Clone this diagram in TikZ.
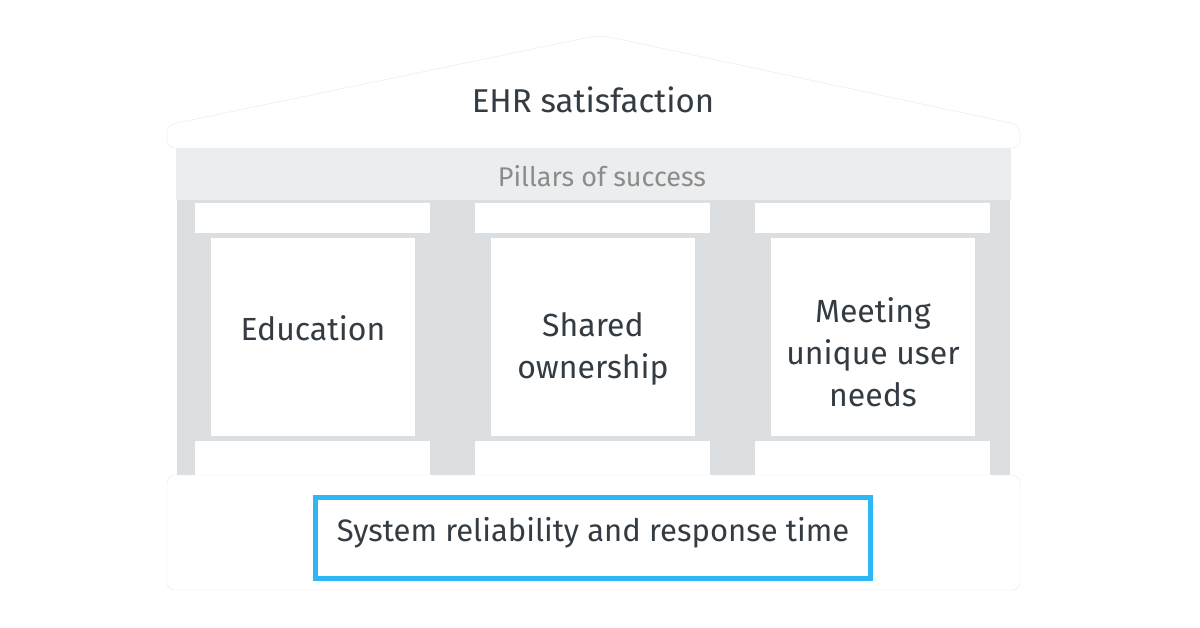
\documentclass[tikz,border=0pt]{standalone}
\usepackage{fontspec}
\setmainfont{Fira Sans}
\definecolor{txt}{HTML}{333B43}
\definecolor{back}{HTML}{DCDFE2}
\definecolor{band}{HTML}{ECEDEE}
\definecolor{edge}{HTML}{E6E8EA}
\definecolor{hl}{HTML}{2DB7F5}
\begin{document}
\begin{tikzpicture}[x=1pt,y=-1pt,
  lbl/.style={text=txt,font=\fontsize{32}{42}\selectfont,align=center},
  wbox/.style={fill=white,draw=none}]
\useasboundingbox (0,0) rectangle (1200,628);
% roof
\draw[draw=edge,fill=white,rounded corners=8pt] (167,148) -- (167,125) -- (600,35) -- (1020,125) -- (1020,148) -- cycle;
\node[text=txt,font=\fontsize{33}{38}\selectfont] (roof) at (593,100) {EHR satisfaction};
% back
\fill[back] (177,200) rectangle (1010,475);
% band
\fill[band] (176,148) rectangle (1011,200);
\node[text=black!45,font=\fontsize{27}{31}\selectfont] (band) at (602,176) {Pillars of success};
% pillars
\foreach \x/\n in {195/a,475/b,755/c}{
  \fill[white] (\x,203) rectangle (\x+235,233);
  \fill[white] (\x,441) rectangle (\x+235,475);
  \fill[white] (\x+16,238) rectangle (\x+220,436);
}
\node[lbl] (p1) at (313,328) {Education};
\node[lbl] (p2) at (593,349) {Shared\\ownership};
\node[lbl] (p3) at (873,352) {Meeting\\unique user\\needs};
% base
\draw[draw=edge,fill=white,rounded corners=8pt] (167,475) rectangle (1020,590);
\draw[hl,line width=5pt] (315,497) rectangle (870,578);
\node[text=txt,font=\fontsize{31}{36}\selectfont] (base) at (593,533) {System reliability and response time};
\end{tikzpicture}
\end{document}
